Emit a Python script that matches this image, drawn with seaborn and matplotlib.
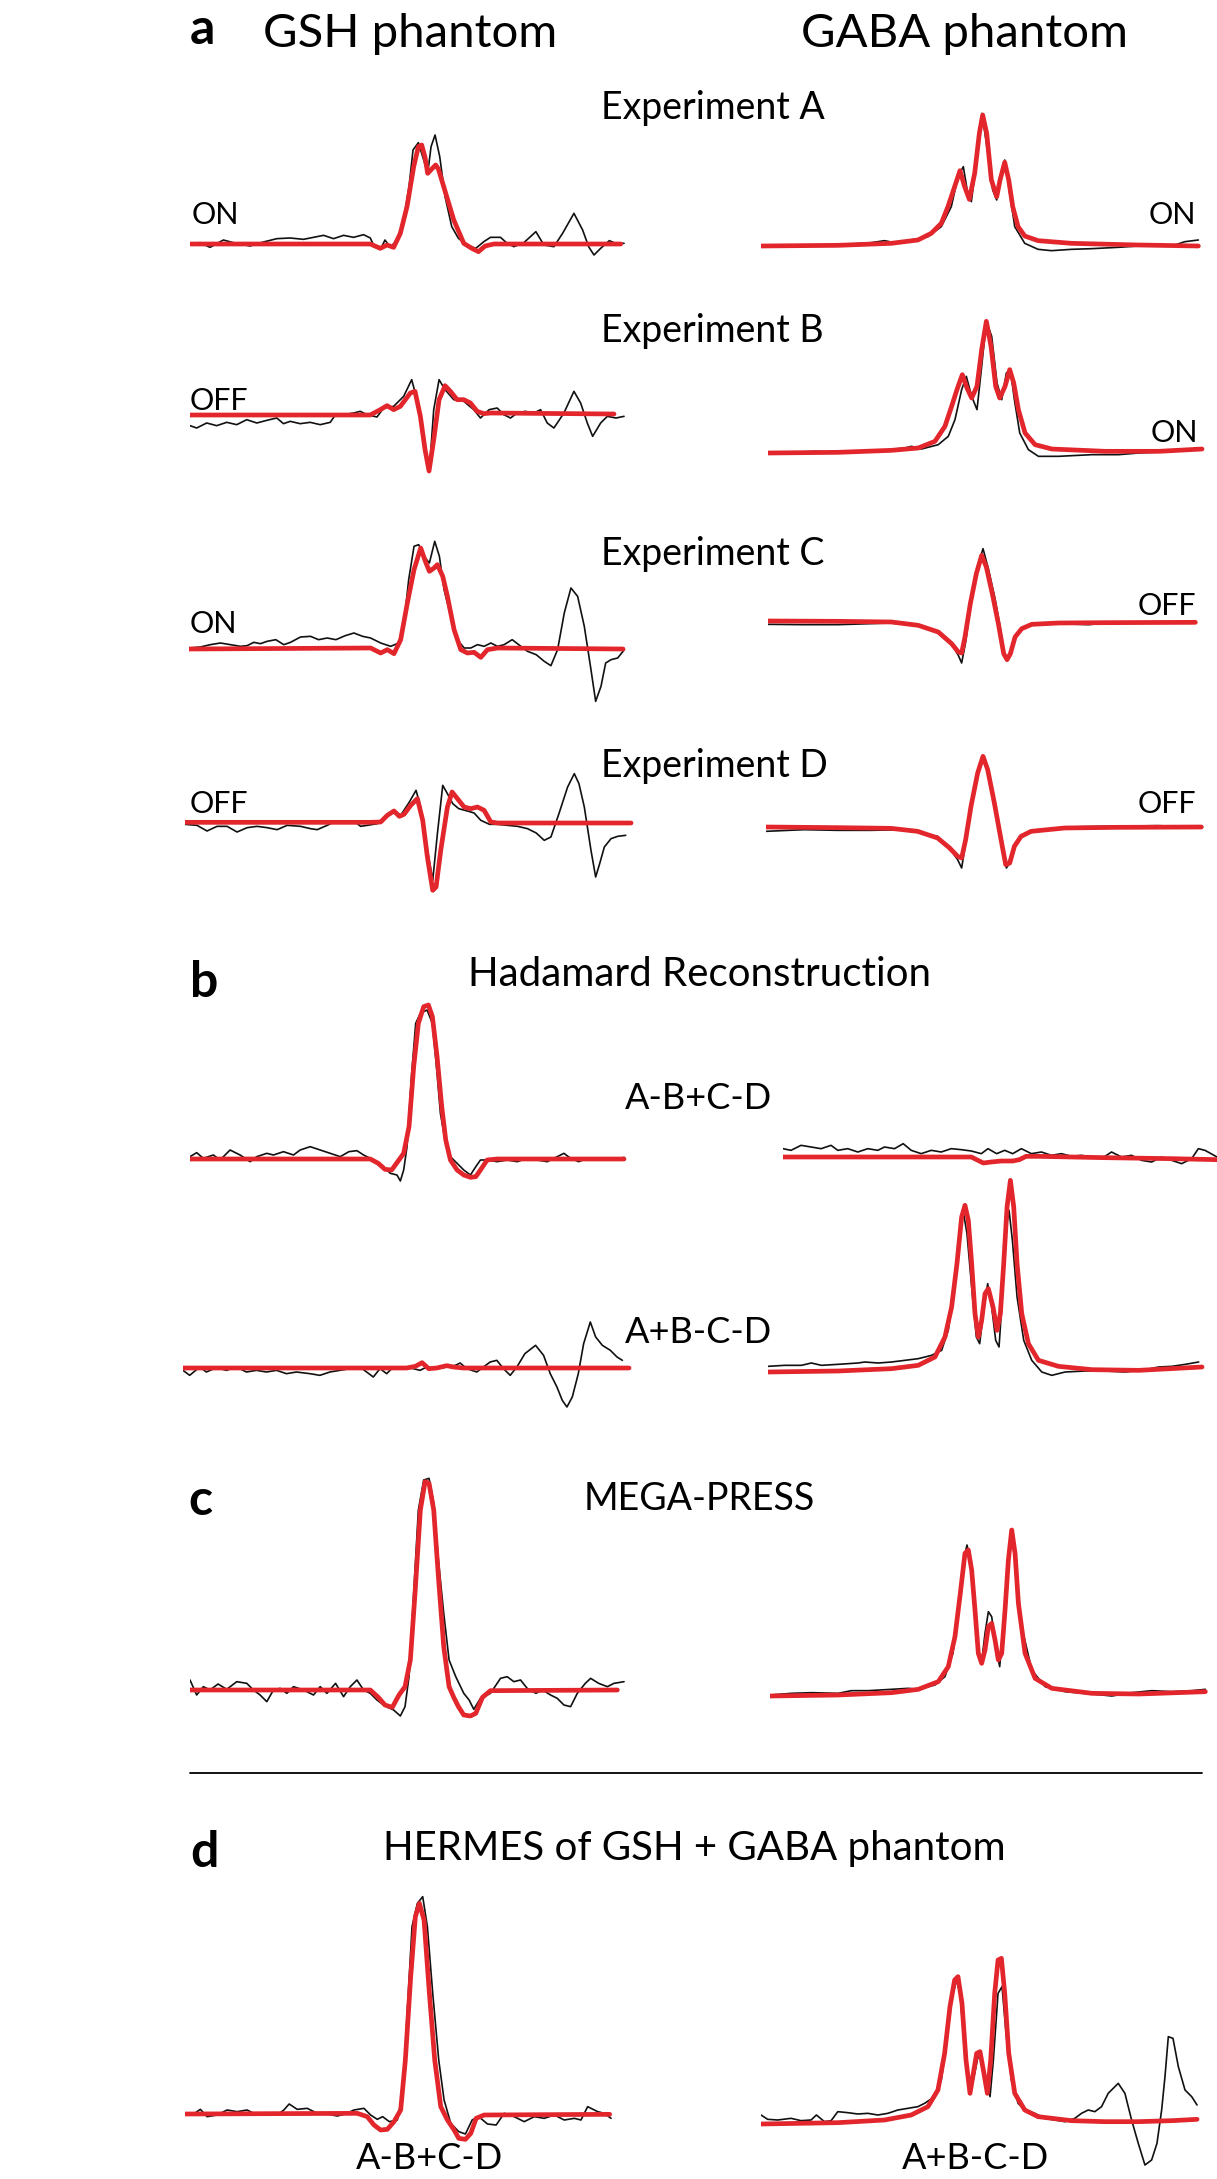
import pandas as pd
import matplotlib
matplotlib.use("Agg")
import matplotlib.pyplot as plt
import seaborn as sns

# traces: (frequency index, signal) pairs, baseline = 0
# "obs" = measured spectrum (black), "fit" = model fit (red)

# --- a: Experiment A
gsh_A_obs = [(0,0),(15,4),(30,-10),(50,12),(65,4),(90,-6),(110,6),(130,16),(150,18),(170,14),(185,20),(200,26),(215,16),(230,26),(245,20),(260,28),(270,18),(276,-8),(286,-13),(292,12),(300,-10),(310,12),(320,72),(328,172),(334,282),(342,304),(350,252),(356,212),(361,292),(367,327),(374,262),(382,142),(392,52),(402,17),(415,-3),(428,-13),(440,7),(450,20),(465,20),(475,2),(485,-8),(500,4),(518,37),(530,-3),(545,-8),(558,32),(575,92),(588,42),(597,-8),(605,-33),(615,-13),(628,10),(637,2),(650,2)]
gsh_A_fit = [(0,0),(270,0),(285,-13),(295,-3),(305,-10),(315,32),(325,112),(335,232),(342,292),(347,297),(352,260),(356,212),(362,225),(368,237),(372,225),(380,172),(395,72),(410,2),(422,-13),(432,-23),(442,-6),(455,0),(645,0)]
gaba_A_obs = [(0,-2),(65,0),(115,3),(165,10),(185,16),(200,10),(225,16),(250,28),(270,58),(285,118),(295,208),(303,238),(310,153),(315,133),(323,258),(331,398),(339,288),(347,168),(353,138),(359,208),(365,258),(371,178),(380,58),(395,8),(415,-10),(435,-14),(465,-10),(495,-8),(535,-4),(565,0),(615,0),(635,13),(655,18)]
gaba_A_fit = [(0,0),(115,2),(195,8),(235,18),(255,38),(270,68),(280,118),(290,178),(298,226),(305,178),(312,140),(320,218),(327,338),(332,393),(338,338),(345,198),(353,148),(358,198),(365,251),(371,198),(377,118),(385,58),(395,30),(415,16),(465,8),(565,3),(655,0)]

# --- a: Experiment B
gsh_B_obs = [(0,-32),(10,-39),(25,-24),(40,-32),(55,-22),(70,-29),(85,-14),(100,-24),(115,-16),(130,-9),(140,-26),(150,-19),(165,-26),(180,-22),(195,-29),(210,-22),(218,1),(230,1),(245,6),(255,11),(265,1),(280,-6),(290,21),(305,26),(320,56),(332,106),(340,46),(348,-54),(355,-150),(360,-124),(365,16),(373,106),(382,76),(395,46),(410,41),(425,16),(435,-9),(448,16),(460,21),(470,1),(480,-9),(490,6),(502,11),(515,6),(525,16),(535,-24),(545,-39),(560,6),(575,71),(585,36),(595,-24),(603,-64),(615,-24),(625,-4),(638,-9),(650,-4)]
gsh_B_fit = [(0,0),(270,0),(285,16),(295,28),(305,16),(315,26),(330,66),(337,71),(345,-4),(352,-104),(358,-168),(365,-74),(373,46),(382,88),(390,71),(400,46),(410,46),(420,36),(430,11),(440,4),(450,6),(635,3)]
gaba_B_obs = [(0,-2),(70,5),(105,2),(155,5),(205,15),(215,20),(230,12),(255,25),(270,50),(280,100),(290,190),(297,230),(305,170),(313,130),(320,260),(327,395),(335,350),(343,210),(350,160),(357,240),(363,250),(369,160),(377,60),(390,10),(405,-10),(435,-10),(485,-5),(525,-5),(555,0),(605,5),(650,10)]
gaba_B_fit = [(0,0),(105,2),(185,8),(225,15),(250,35),(265,80),(275,140),(283,190),(291,235),(298,195),(305,165),(313,200),(320,310),(327,395),(334,320),(341,200),(347,165),(355,200),(362,250),(368,210),(375,130),(385,60),(400,25),(425,12),(505,5),(585,5),(650,12)]

# --- a: Experiment C
gsh_C_obs = [(0,3),(17,6),(32,13),(47,18),(62,13),(77,8),(87,10),(97,20),(107,16),(117,23),(130,28),(142,13),(152,20),(167,36),(182,38),(194,28),(207,33),(220,28),(234,40),(247,48),(260,38),(272,33),(287,18),(302,8),(314,18),(322,78),(329,208),(337,308),(344,313),(352,278),(360,258),(368,323),(375,278),(382,178),(392,98),(402,28),(412,3),(422,3),(432,13),(442,8),(452,18),(462,8),(472,13),(484,28),(497,8),(507,-7),(520,-17),(532,-37),(542,-50),(552,-2),(562,108),(572,183),(582,158),(592,68),(602,-62),(609,-157),(617,-112),(624,-42),(632,-32),(642,-27),(652,-2)]
gsh_C_fit = [(0,0),(272,3),(287,-12),(297,-2),(307,-14),(317,28),(327,138),(337,238),(347,303),(354,263),(360,233),(367,243),(372,253),(380,218),(387,158),(397,58),(407,-2),(417,-12),(427,-10),(437,-25),(447,-2),(462,3),(650,0)]
gaba_C_obs = [(0,-7),(50,-8),(105,-8),(185,-3),(225,-12),(255,-30),(275,-65),(285,-100),(290,-123),(296,-60),(304,60),(313,160),(322,220),(330,160),(340,70),(348,-20),(353,-95),(358,-115),(363,-95),(370,-45),(380,-22),(395,-10),(435,-5),(480,-8),(505,-3),(570,-3),(640,-2)]
gaba_C_fit = [(0,3),(105,2),(185,0),(225,-10),(255,-30),(275,-65),(285,-90),(290,-93),(295,-45),(303,55),(312,145),(320,200),(327,165),(337,75),(345,-5),(353,-95),(358,-113),(363,-95),(370,-45),(380,-20),(395,-7),(435,-3),(505,-2),(640,-1)]

# --- a: Experiment D
gsh_D_obs = [(0,-4),(18,-7),(33,-24),(48,-10),(63,-10),(78,-27),(93,-14),(108,-10),(123,-14),(138,-20),(153,-7),(173,-10),(188,-17),(198,-20),(213,-7),(226,6),(238,0),(253,6),(263,-10),(273,-7),(288,-2),(303,20),(313,38),(323,23),(336,63),(346,98),(353,48),(363,-82),(371,-172),(378,-32),(386,113),(393,88),(401,58),(410,43),(423,36),(433,30),(443,8),(456,-4),(468,-4),(483,-7),(498,-10),(513,-17),(526,-30),(538,-52),(548,-42),(560,28),(573,108),(583,148),(590,118),(598,48),(608,-82),(615,-162),(621,-122),(628,-72),(638,-47),(648,-40),(660,-37)]
gsh_D_fit = [(0,2),(278,2),(293,3),(303,23),(313,36),(321,20),(328,26),(338,53),(348,73),(356,8),(363,-102),(371,-202),(376,-192),(383,-82),(393,48),(400,93),(408,73),(418,48),(428,43),(438,48),(448,38),(458,3),(468,0),(668,0)]
gaba_D_obs = [(0,-13),(57,-8),(107,-10),(157,-10),(207,-8),(257,-28),(277,-70),(287,-98),(293,-123),(299,-48),(307,60),(317,165),(325,212),(333,168),(343,70),(352,-40),(360,-123),(366,-105),(373,-55),(383,-30),(397,-16),(447,0),(507,2),(587,4),(652,0)]
gaba_D_fit = [(0,0),(107,-2),(187,-4),(227,-13),(257,-33),(275,-63),(287,-88),(293,-93),(299,-38),(307,62),(317,162),(325,212),(332,172),(342,72),(352,-38),(359,-113),(365,-108),(372,-58),(382,-28),(397,-13),(447,-3),(527,-1),(652,0)]

# --- b: Hadamard reconstruction, A-B+C-D
gsh_h1_obs = [(0,7),(10,19),(20,2),(35,12),(45,-3),(60,27),(75,12),(90,-8),(100,7),(115,17),(125,12),(140,22),(155,12),(165,27),(180,37),(195,27),(210,17),(225,7),(238,22),(250,25),(260,12),(270,2),(280,-8),(290,-23),(300,-43),(310,-48),(315,-66),(320,-33),(325,37),(332,257),(338,407),(345,437),(355,447),(363,407),(370,257),(375,137),(382,57),(390,7),(400,-13),(410,-33),(420,-48),(428,-23),(435,-3),(445,-3),(460,-8),(475,-3),(490,-8),(505,2),(520,-3),(535,-8),(550,7),(560,17),(570,2),(582,-8),(595,2),(610,-3),(625,2),(640,-3),(650,5)]
gsh_h1_fit = [(0,0),(270,0),(282,-13),(292,-31),(302,-33),(310,-11),(320,17),(328,97),(335,277),(342,407),(350,457),(357,462),(363,427),(370,307),(377,157),(383,57),(390,-3),(400,-33),(410,-48),(420,-55),(428,-53),(435,-33),(445,-3),(460,0),(650,0)]
gaba_h1_obs = [(0,25),(12,20),(27,35),(42,30),(57,25),(72,35),(82,20),(97,25),(112,15),(127,25),(142,20),(152,30),(167,25),(180,40),(192,20),(207,10),(222,20),(237,15),(252,25),(267,22),(282,18),(297,10),(307,25),(320,10),(332,20),(344,10),(357,25),(372,10),(387,15),(402,5),(417,10),(432,2),(447,5),(462,0),(477,-5),(492,15),(507,0),(522,5),(537,-10),(552,-15),(567,0),(582,-10),(597,-20),(612,-5),(622,25),(632,20),(650,0)]
gaba_h1_fit = [(0,0),(82,0),(182,0),(282,0),(292,-10),(300,-18),(312,-15),(327,-12),(344,-12),(354,-8),(364,2),(382,2),(482,-2),(582,-5),(650,-8)]

# --- b: Hadamard reconstruction, A+B-C-D
gsh_h2_obs = [(0,-7),(10,-22),(25,3),(35,-12),(50,1),(65,-7),(80,3),(95,-12),(110,-7),(125,-12),(140,-7),(155,-17),(170,-12),(190,-17),(205,-22),(220,-12),(235,-7),(250,-2),(265,3),(275,-12),(285,-27),(295,-2),(305,-17),(315,3),(330,3),(345,-2),(355,-7),(365,3),(380,-2),(395,3),(408,8),(415,15),(425,-2),(440,-12),(450,3),(460,18),(470,23),(480,-2),(490,-22),(500,3),(512,43),(528,68),(540,38),(550,-17),(560,-57),(568,-97),(575,-117),(583,-87),(592,-17),(600,73),(610,138),(618,93),(628,68),(640,53),(650,33),(658,23)]
gsh_h2_fit = [(0,0),(335,0),(348,5),(358,16),(368,-2),(380,0),(395,7),(405,3),(420,0),(668,0)]
gaba_h2_obs = [(0,17),(25,20),(50,20),(65,27),(80,20),(105,23),(135,27),(145,30),(165,27),(185,30),(205,35),(225,40),(245,50),(260,65),(270,125),(280,275),(288,445),(293,475),(298,415),(305,255),(312,105),(317,85),(323,185),(329,265),(335,195),(341,95),(346,75),(351,225),(356,425),(361,485),(366,395),(373,225),(383,95),(395,35),(410,0),(425,-10),(445,0),(475,3),(505,3),(535,0),(565,7),(585,15),(605,17),(625,23),(645,30)]
gaba_h2_fit = [(0,0),(105,3),(185,10),(225,20),(250,45),(265,105),(275,195),(283,325),(290,465),(295,500),(300,455),(305,325),(310,175),(315,105),(320,155),(325,235),(330,250),(337,195),(343,125),(348,175),(353,325),(358,495),(363,575),(368,495),(373,325),(380,175),(390,85),(405,35),(435,17),(485,7),(555,5),(650,15)]

# --- c: MEGA-PRESS
gsh_mp_obs = [(0,30),(10,-15),(20,10),(30,0),(42,18),(55,2),(70,25),(85,20),(95,0),(105,-15),(115,-35),(125,0),(135,5),(145,-10),(155,10),(170,0),(185,-15),(195,10),(205,-10),(218,20),(230,-20),(240,10),(250,30),(260,0),(270,-10),(280,-30),(292,-48),(305,-60),(315,-78),(322,-50),(328,40),(335,290),(342,540),(350,630),(358,635),(365,560),(372,390),(380,230),(388,90),(398,40),(410,-10),(418,-30),(425,-58),(435,-25),(450,-10),(465,35),(475,40),(485,25),(495,30),(505,5),(518,-10),(528,0),(540,-15),(550,-25),(560,-45),(570,-50),(580,-10),(592,20),(600,35),(612,20),(625,10),(635,20),(650,25)]
gsh_mp_fit = [(0,0),(270,0),(282,-22),(292,-45),(303,-52),(313,-15),(322,10),(330,90),(337,290),(345,540),(352,625),(358,620),(365,540),(372,340),(380,130),(388,10),(395,-22),(402,-50),(410,-75),(420,-78),(428,-70),(438,-22),(450,-2),(640,0)]
gaba_mp_obs = [(0,3),(32,8),(62,10),(102,8),(122,16),(147,16),(182,20),(207,23),(222,20),(247,33),(262,58),(274,128),(282,258),(290,408),(295,453),(300,408),(307,268),(312,138),(317,103),(322,188),(327,253),(332,238),(338,148),(344,88),(350,228),(356,378),(362,493),(368,388),(377,208),(392,78),(412,28),(442,13),(482,6),(512,0),(542,10),(572,16),(602,13),(632,16),(652,20)]
gaba_mp_fit = [(0,0),(102,3),(182,10),(222,20),(252,43),(267,88),(277,178),(285,308),(292,428),(297,438),(302,378),(307,258),(312,128),(317,98),(322,138),(327,208),(332,218),(337,168),(342,108),(347,128),(352,258),(357,408),(362,498),(367,428),(372,278),(382,128),(397,53),(422,23),(482,8),(552,6),(652,13)]

# --- d: HERMES of GSH + GABA phantom
her_gsh_obs = [(0,2),(13,0),(23,14),(33,-8),(48,-3),(63,12),(78,7),(93,12),(108,-3),(123,4),(138,-3),(148,12),(156,30),(168,14),(183,17),(198,2),(213,0),(228,-6),(240,0),(253,12),(268,17),(278,-3),(288,-16),(296,-8),(306,-23),(318,-18),(326,62),(333,312),(340,562),(348,632),(356,652),(363,562),(371,362),(380,162),(388,42),(398,-28),(410,-53),(420,-60),(430,-18),(440,-8),(453,-30),(466,-33),(478,2),(493,-8),(508,-23),(523,-8),(538,-13),(553,-3),(568,-18),(583,-13),(593,-18),(603,22),(618,7),(628,2),(638,-13)]
her_gsh_fit = [(0,0),(258,2),(273,-8),(283,-33),(293,-48),(303,-46),(313,-23),(323,12),(330,162),(338,412),(345,592),(351,632),(358,582),(366,362),(374,162),(383,22),(393,-18),(403,-48),(410,-73),(420,-76),(428,-58),(436,-13),(448,-3),(636,-1)]
her_gaba_obs = [(0,27),(10,14),(25,12),(45,17),(60,10),(75,12),(83,27),(95,7),(105,10),(115,37),(130,34),(145,30),(160,32),(175,27),(190,32),(205,42),(220,47),(235,52),(245,62),(260,82),(270,132),(278,242),(285,372),(293,432),(298,392),(305,222),(312,102),(318,132),(325,202),(331,192),(337,132),(343,82),(348,192),(355,392),(361,412),(367,272),(375,132),(385,62),(395,42),(410,32),(425,17),(440,12),(455,7),(470,17),(480,32),(490,42),(500,37),(510,52),(520,92),(535,122),(545,92),(555,12),(565,-58),(575,-123),(585,-108),(593,-58),(600,42),(605,142),(610,262),(617,257),(625,172),(635,102),(645,82),(653,57)]
her_gaba_fit = [(0,0),(115,4),(185,12),(225,27),(250,52),(265,102),(275,212),(283,352),(290,432),(295,442),(301,362),(307,192),(313,92),(318,152),(323,212),(328,217),(333,162),(339,92),(344,192),(350,392),(355,492),(360,497),(365,392),(371,212),(380,92),(395,42),(415,22),(465,10),(515,7),(565,7),(615,10),(653,14)]

# ---------------------------------------------------------------
FW, FH = 1217, 2179        # figure size in px
XU, YU = 1.4976, 3.0       # data units per px
SPAN, UP, DOWN = 460, 240, 90
BLACK = "#111111"
RED = "#e2262c"

sns.set_theme(style="white")
plt.rcParams["font.family"] = ["Lato", "DejaVu Sans"]

fig = plt.figure(figsize=(FW / 100, FH / 100), dpi=100)


def add_panel(x0, base, obs, fit):
    ax = fig.add_axes([x0 / FW, 1 - (base + DOWN) / FH, SPAN / FW, (UP + DOWN) / FH])
    d_obs = pd.DataFrame(obs, columns=["shift", "signal"])
    d_fit = pd.DataFrame(fit, columns=["shift", "signal"])
    sns.lineplot(data=d_obs, x="shift", y="signal", ax=ax, color=BLACK, lw=1.2,
                 estimator=None, sort=False, legend=False)
    sns.lineplot(data=d_fit, x="shift", y="signal", ax=ax, color=RED, lw=3.4,
                 estimator=None, sort=False, legend=False)
    ax.set_xlim(0, SPAN * XU)
    ax.set_ylim(-DOWN * YU, UP * YU)
    ax.axis("off")
    return ax


# (left px, baseline px) for each panel
add_panel(190, 244, gsh_A_obs, gsh_A_fit)
add_panel(761, 246, gaba_A_obs, gaba_A_fit)
add_panel(190, 415, gsh_B_obs, gsh_B_fit)
add_panel(768, 453, gaba_B_obs, gaba_B_fit)
add_panel(189, 649, gsh_C_obs, gsh_C_fit)
add_panel(768, 622, gaba_C_obs, gaba_C_fit)
add_panel(185, 823, gsh_D_obs, gsh_D_fit)
add_panel(766, 827, gaba_D_obs, gaba_D_fit)
add_panel(190, 1159, gsh_h1_obs, gsh_h1_fit)
add_panel(783, 1157, gaba_h1_obs, gaba_h1_fit)
add_panel(183, 1368, gsh_h2_obs, gsh_h2_fit)
add_panel(768, 1372, gaba_h2_obs, gaba_h2_fit)
add_panel(190, 1690, gsh_mp_obs, gsh_mp_fit)
add_panel(770, 1696, gaba_mp_obs, gaba_mp_fit)
add_panel(185, 2114, her_gsh_obs, her_gsh_fit)
add_panel(761, 2124, her_gaba_obs, her_gaba_fit)


def label(x, y, s, size=24, ha="left", weight="normal"):
    fig.text(x / FW, 1 - y / FH, s, ha=ha, va="baseline", fontsize=size,
             fontweight=weight, color="black")


# panel letters
for x, y, s in [(190, 44, "a"), (190, 997, "b"), (188, 1515, "c"), (190, 1867, "d")]:
    label(x, y, s, size=36, weight="bold")

label(263, 47, "GSH phantom", size=34)
label(801, 47, "GABA phantom", size=34)

for y, s in [(119, "Experiment A"), (342, "Experiment B"), (565, "Experiment C"), (777, "Experiment D")]:
    label(601, y, s, size=27)

# editing ON / OFF tags
label(192, 224, "ON", size=22)
label(1196, 224, "ON", size=22, ha="right")
label(190, 410, "OFF", size=22)
label(1198, 442, "ON", size=22, ha="right")
label(190, 633, "ON", size=22)
label(1196, 615, "OFF", size=22, ha="right")
label(190, 813, "OFF", size=22)
label(1196, 813, "OFF", size=22, ha="right")

label(699, 986, "Hadamard Reconstruction", size=29, ha="center")
label(699, 1109, "A-B+C-D", size=26, ha="center")
label(699, 1343, "A+B-C-D", size=26, ha="center")
label(699, 1510, "MEGA-PRESS", size=27, ha="center")
label(694, 1860, "HERMES of GSH + GABA phantom", size=29, ha="center")
label(430, 2169, "A-B+C-D", size=26, ha="center")
label(976, 2169, "A+B-C-D", size=26, ha="center")

# separator between c and d
fig.add_artist(plt.Line2D([190 / FW, 1202 / FW], [1 - 1773 / FH] * 2, color="black", lw=1.3))

fig.savefig("out.png", dpi=100)
